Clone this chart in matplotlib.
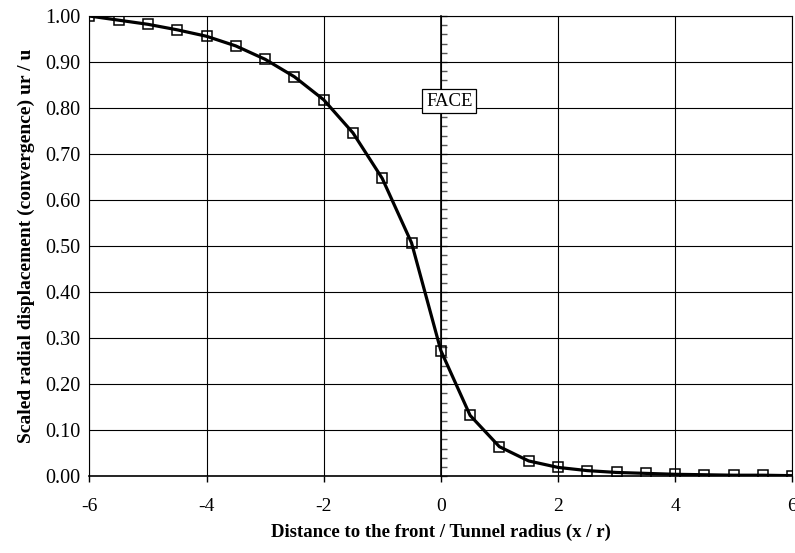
import matplotlib.pyplot as plt
import matplotlib.ticker as mticker
import numpy as np

# Longitudinal displacement profile, sampled every half tunnel radius
x_over_r = [-6.0, -5.5, -5.0, -4.5, -4.0, -3.5, -3.0, -2.5, -2.0, -1.5, -1.0, -0.5,
            0.0, 0.5, 1.0, 1.5, 2.0, 2.5, 3.0, 3.5, 4.0, 4.5, 5.0, 5.5, 6.0]
ur_over_u = [1.000, 0.991, 0.982, 0.970, 0.956, 0.935, 0.906, 0.868, 0.818, 0.746, 0.647, 0.507,
             0.273, 0.132, 0.064, 0.033, 0.019, 0.012, 0.008, 0.006, 0.004, 0.003, 0.002, 0.002, 0.001]

x_ticks = [-6, -4, -2, 0, 2, 4, 6]
face_label = "FACE"

plt.rcParams['font.family'] = ['Liberation Serif', 'DejaVu Serif']

fig = plt.figure(figsize=(7.95, 5.53), dpi=100)
ax = fig.add_axes([0.1125, 0.139, 0.884, 0.832])

ax.plot(x_over_r, ur_over_u, color='black', linewidth=2.3, marker='s', markersize=6.5,
        markerfacecolor='none', markeredgecolor='black', markeredgewidth=1.1, zorder=3)

ax.set_xlim(-6, 6)
ax.set_ylim(0, 1)
ax.set_xticks(x_ticks)
ax.set_xticklabels([str(t) for t in x_ticks])
ax.yaxis.set_major_locator(mticker.MultipleLocator(0.1))
ax.yaxis.set_major_formatter(mticker.FormatStrFormatter('%.2f'))

ax.grid(True, color='black', linewidth=0.8)
for side in ['left', 'right', 'top']:
    ax.spines[side].set_linewidth(0.8)
ax.spines['bottom'].set_linewidth(1.2)

ax.tick_params(axis='y', length=0, pad=6.5, labelsize=14.5)
ax.tick_params(axis='x', length=4, width=1.0, direction='out', pad=12, labelsize=14)

# value axis crossing at the face, with minor ticks every 0.02
face_axis = ax.secondary_yaxis(0.5)
face_axis.spines['right'].set_linewidth(1.2)
face_axis.yaxis.set_major_locator(mticker.MultipleLocator(0.1))
face_axis.yaxis.set_minor_locator(mticker.MultipleLocator(0.02))
face_axis.tick_params(which='both', direction='out', length=4, width=1.0,
                      color='#555555', labelright=False)

ax.text(0.145, 0.815, face_label, ha='center', va='center', fontsize=13.5, zorder=5,
        bbox=dict(boxstyle='square,pad=0.2', facecolor='white', edgecolor='black', linewidth=0.9))

ax.set_xlabel("Distance to the front / Tunnel radius (x / r)", fontsize=13.5,
              fontweight='bold', labelpad=6)
ax.set_ylabel("Scaled radial displacement (convergence) ur / u", fontsize=14,
              fontweight='bold', labelpad=7)

fig.savefig("out.png", dpi=100)
